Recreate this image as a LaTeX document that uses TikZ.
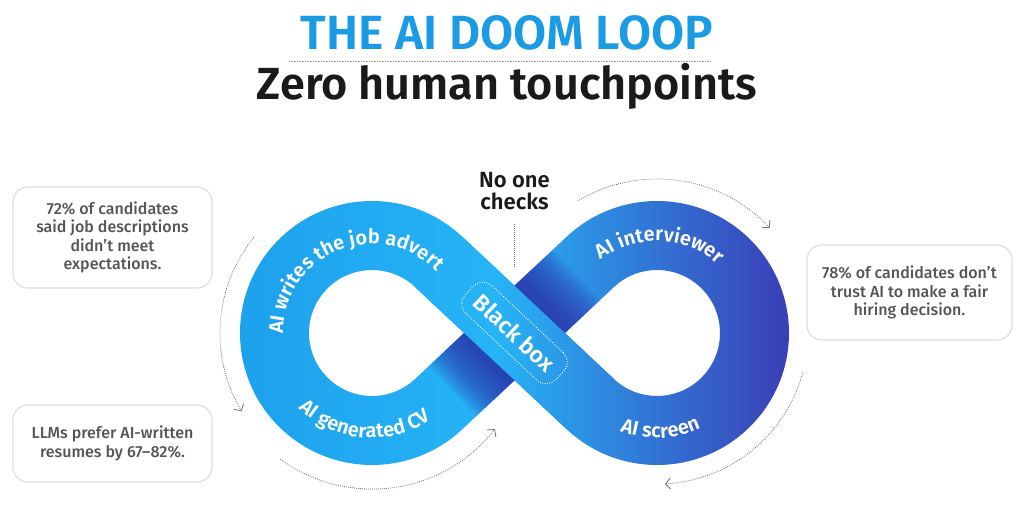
\documentclass[tikz,border=0pt]{standalone}
\usepackage{fontspec}
\setmainfont{Fira Sans}
\IfFontExistsTF{Fira Sans SemiBold}
  {\newfontfamily\semifont{Fira Sans SemiBold}}
  {\newfontfamily\semifont{Fira Sans}[FakeBold=2]}
\IfFontExistsTF{Fira Sans Medium}
  {\newfontfamily\medfont{Fira Sans Medium}}
  {\newfontfamily\medfont{Fira Sans}[FakeBold=1]}
\usetikzlibrary{calc,decorations.text,arrows.meta}

\definecolor{titleblue}{HTML}{1B9BE3}
\definecolor{inkdark}{HTML}{1A1A1A}
\definecolor{statgray}{HTML}{555555}
\definecolor{boxline}{HTML}{DCDCDC}
\definecolor{rulegray}{HTML}{9A9A9A}
\definecolor{guide}{HTML}{6E6E6E}
\definecolor{loopA}{HTML}{1CA0EC}
\definecolor{loopB}{HTML}{26B4F6}
\definecolor{loopC}{HTML}{3C3AB5}
\definecolor{shadowblue}{HTML}{3236AE}

\begin{document}
\begin{tikzpicture}[x=1pt,y=1pt,
  infobox/.style={draw=boxline, line width=1.1pt, fill=white, rounded corners=15pt,
    align=center, text=statgray, inner sep=0pt,
    font=\medfont\fontsize{16}{18.5}\selectfont},
  guide arc/.style={draw=guide, line width=0.8pt, dash pattern=on 0.8pt off 1.2pt,
    -{Straight Barb[length=5pt,width=11pt,line width=0.8pt]}},
  guide line/.style={draw=guide, line width=0.9pt, dash pattern=on 0.8pt off 1.2pt},
  blackbox/.style={draw=white, line width=0.9pt, dash pattern=on 0.9pt off 1.5pt,
    rounded corners=13pt, minimum width=124pt, minimum height=38pt, inner sep=0pt,
    text=white, font=\semifont\fontsize{23}{23}\selectfont},
  looptext/.style={decorate, decoration={text along path, text align=center,
    text={|\semifont\fontsize{20}{20}\selectfont\color{white}|#1}}},
]
\fill[white] (0,0) rectangle (1024,517);
\useasboundingbox (0,0) rectangle (1024,517);

% headings
\node[anchor=base, text=titleblue, font=\semifont\fontsize{48}{48}\selectfont]
  (title) at (507,467) {THE AI DOOM LOOP};
\draw[rulegray, line width=0.8pt, dash pattern=on 0.6pt off 1pt]
  (289,456) coordinate (ruleL) -- (711,456) coordinate (ruleR);
\node[anchor=base, text=inkdark, font=\semifont\fontsize{45}{45}\selectfont]
  (subtitle) at (507,417) {Zero human touchpoints};

% geometry of the figure-eight band
\pgfmathsetmacro\phiang{acos(97.5/142.5)}
\pgfmathsetmacro\tilt{90-\phiang}
\coordinate (CL) at (372,184);
\coordinate (CR) at (657,184);
\coordinate (X) at (514.5,184);
\coordinate (TLu) at ($(CL)+(\phiang:97.5)$);
\coordinate (TLd) at ($(CL)+({-\phiang}:97.5)$);
\coordinate (TRu) at ($(CR)+({180-\phiang}:97.5)$);
\coordinate (TRd) at ($(CR)+({180+\phiang}:97.5)$);
% crossing band on top (upper left to lower right)
\coordinate (B1) at ($(TLu)!34.5pt!-90:(TRd)$);
\coordinate (B2) at ($(TRd)!34.5pt!90:(TLu)$);
\coordinate (B3) at ($(TRd)!34.5pt!-90:(TLu)$);
\coordinate (B4) at ($(TLu)!34.5pt!90:(TRd)$);
% crossing band underneath (lower left to upper right)
\coordinate (A1) at ($(TLd)!34.5pt!-90:(TRu)$);
\coordinate (A2) at ($(TRu)!34.5pt!90:(TLd)$);
\coordinate (A3) at ($(TRu)!34.5pt!-90:(TLd)$);
\coordinate (A4) at ($(TLd)!34.5pt!90:(TRu)$);

% whole band with its left-to-right gradient
\begin{scope}
  \clip ($(CL)+(\phiang:132)$) arc[start angle=\phiang, end angle={360-\phiang}, radius=132]
        -- ($(CL)+({360-\phiang}:63)$) arc[start angle={360-\phiang}, end angle=\phiang, radius=63] -- cycle
        ($(CR)+({180+\phiang}:132)$) arc[start angle={180+\phiang}, end angle={540-\phiang}, radius=132]
        -- ($(CR)+({540-\phiang}:63)$) arc[start angle={540-\phiang}, end angle={180+\phiang}, radius=63] -- cycle
        (A1) -- (A2) -- (A3) -- (A4) -- cycle
        (B1) -- (B2) -- (B3) -- (B4) -- cycle;
  \shade[left color=loopA, right color=loopB] (225,40) rectangle (496,330);
  \shade[left color=loopB, right color=loopC] (495,40) rectangle (800,330);
\end{scope}

% shadow cast on the lower band next to the crossing
\begin{scope}[shift={(X)}, rotate=\tilt]
  \foreach \k in {1,...,26}{
    \fill[shadowblue, opacity=0.09] (20,-34.5) -- ({20+2.5*\k},-34.5)
      -- ({20+2.5*\k},34.5) -- (20,34.5) -- cycle;
    \fill[shadowblue, opacity=0.09] (-20,-34.5) -- ({-20-2.5*\k},-34.5)
      -- ({-20-2.5*\k},34.5) -- (-20,34.5) -- cycle;
  }
\end{scope}

% upper crossing band painted again on top
\begin{scope}
  \clip (B1) -- (B2) -- (B3) -- (B4) -- cycle;
  \shade[left color=loopA, right color=loopB] (225,40) rectangle (496,330);
  \shade[left color=loopB, right color=loopC] (495,40) rectangle (800,330);
\end{scope}

\node[blackbox, rotate=-\tilt] (bbox) at (X) {Black box};

% labels along the band
\path[looptext={AI writes the job advert}]
  ($(CL)+(202:89)$) arc[start angle=202, end angle=22, radius=89];
\path[looptext={AI generated CV}]
  ($(CL)+(195:105)$) arc[start angle=195, end angle=335, radius=105];
\path[looptext={AI interviewer}]
  ($(CR)+(178:92)$) arc[start angle=178, end angle=-2, radius=92];
\path[looptext={AI screen}]
  ($(CR)+(202:105)$) arc[start angle=202, end angle=342, radius=105];

% dotted cycle arrows around the loops
\draw[guide arc] ($(CL)+(141:152)$) arc[start angle=141, end angle=211, radius=152];
\draw[guide arc] ($(CL)+(234:156)$) arc[start angle=234, end angle=322, radius=156];
\draw[guide arc] ($(CR)+(121:154)$) arc[start angle=121, end angle=43, radius=154];
\draw[guide arc] ($(CR)+(-15:151)$) arc[start angle=-15, end angle=-87, radius=151];

% caption above the crossing
\node[align=center, inner sep=2pt, text=inkdark,
  font=\semifont\fontsize{22}{22}\selectfont] (nocheck) at (514.5,326) {No one\\checks};
\coordinate (notch) at (514.5,250);
\draw[guide line, shorten <=12pt] (nocheck.south) -- (notch);

% statistic boxes
\node[infobox, minimum width=199pt, minimum height=101pt] (stat1) at (112.5,279.5)
  {72\% of candidates\\said job descriptions\\didn’t meet\\expectations.};
\node[infobox, minimum width=199pt, minimum height=77pt] (stat2) at (112.5,73.5)
  {LLMs prefer AI-written\\resumes by 67–82\%.};
\node[infobox, minimum width=205pt, minimum height=95pt] (stat3) at (909.5,224.5)
  {78\% of candidates don’t\\trust AI to make a fair\\hiring decision.};
\end{tikzpicture}
\end{document}
